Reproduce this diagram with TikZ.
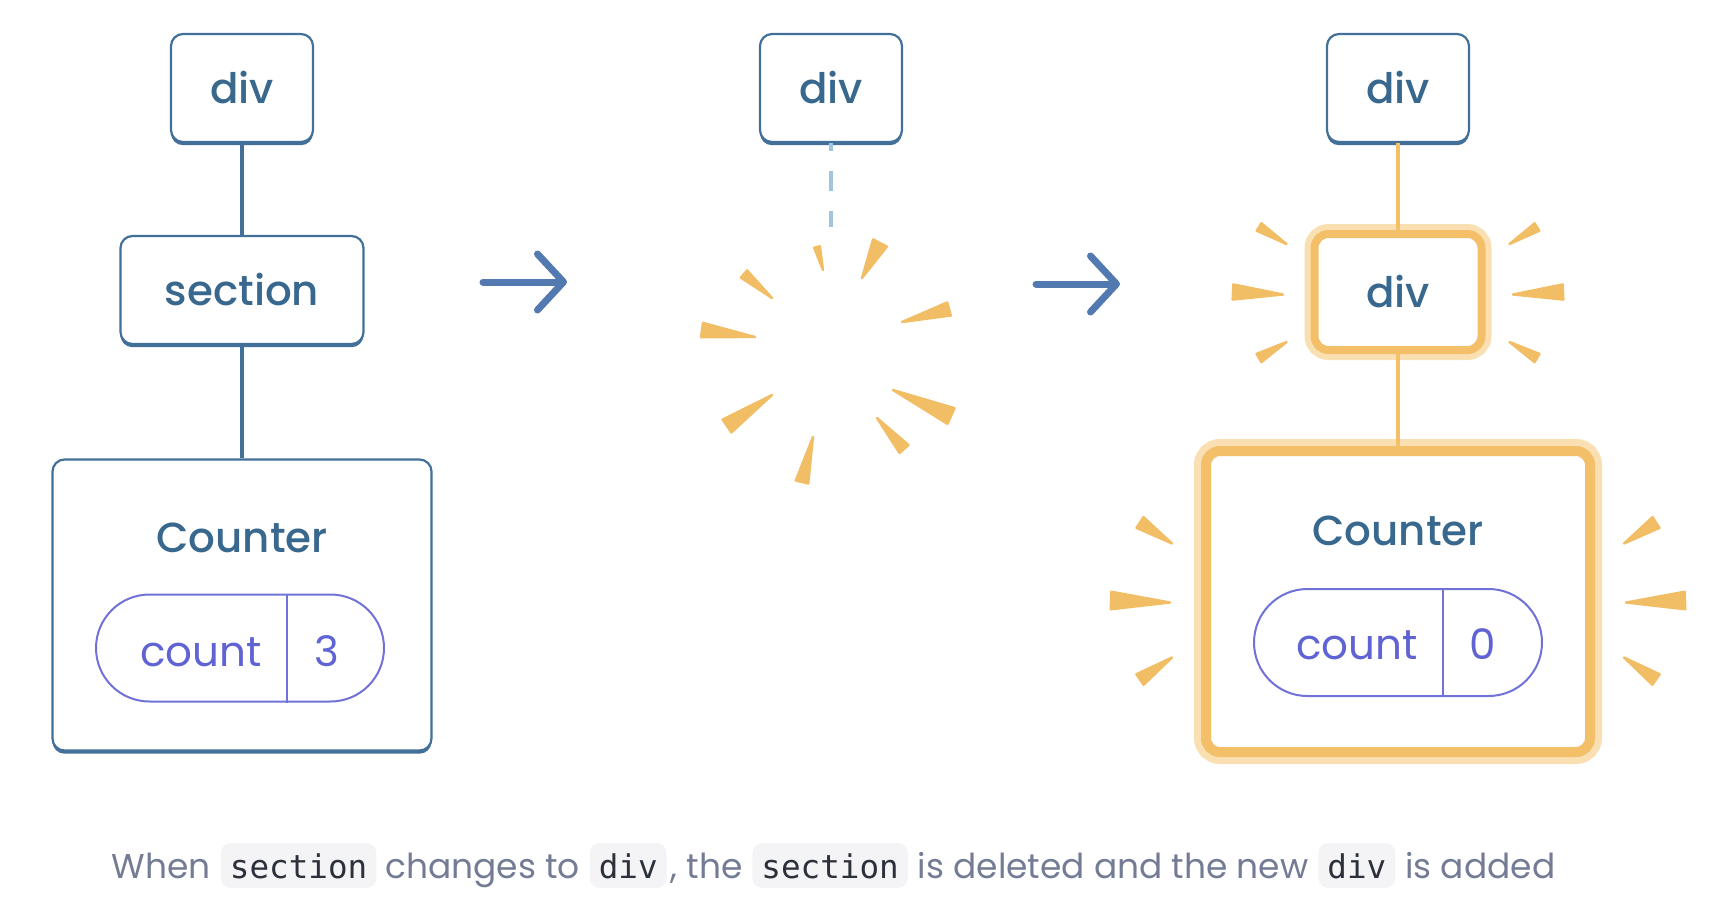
\documentclass[tikz,border=0pt]{standalone}
\usepackage{fontspec}
\setmainfont{Poppins}
\IfFontExistsTF{Poppins Medium}{\newfontfamily\labelfont{Poppins Medium}}{\newfontfamily\labelfont{Poppins}}
\newfontfamily\codefont{DejaVu Sans Mono}
\usetikzlibrary{positioning,calc,shadows,arrows.meta}

\definecolor{boxblue}{RGB}{66,112,152}
\definecolor{labelblue}{RGB}{57,104,142}
\definecolor{arrowblue}{RGB}{82,121,176}
\definecolor{dashblue}{RGB}{160,197,225}
\definecolor{pillblue}{RGB}{112,114,215}
\definecolor{pilltext}{RGB}{96,99,212}
\definecolor{hotorange}{RGB}{243,191,104}
\definecolor{glow}{RGB}{249,223,178}
\definecolor{sparkorange}{RGB}{242,190,101}
\definecolor{capgray}{RGB}{116,124,149}
\definecolor{codetext}{RGB}{44,48,58}
\definecolor{codebg}{RGB}{244,244,246}

\tikzset{
  tag/.style={draw=boxblue,line width=1.1pt,fill=white,rounded corners=6pt,
    general shadow={fill=boxblue,shadow yshift=-1.6pt},
    text=labelblue,font=\labelfont\fontsize{21}{25}\selectfont,inner sep=0pt},
  hottag/.style={draw=hotorange,line width=4pt,fill=white,rounded corners=7pt,
    preaction={draw=glow,line width=10pt},
    text=labelblue,font=\labelfont\fontsize{21}{25}\selectfont,inner sep=0pt},
  hotbox/.style={hottag,line width=5pt,preaction={draw=glow,line width=12pt}},
  title/.style={text=labelblue,font=\labelfont\fontsize{21}{25}\selectfont,inner sep=0pt},
  pill/.style={draw=pillblue,line width=1pt,rounded corners=26.75pt,
    minimum width=144pt,minimum height=53.5pt,inner sep=0pt},
  pillline/.style={draw=pillblue,line width=1pt},
  pilltxt/.style={text=pilltext,font=\fontsize{21}{25}\selectfont,inner sep=0pt},
  link/.style={draw=boxblue,line width=2pt},
  hotlink/.style={draw=hotorange,line width=2pt},
  gonelink/.style={draw=dashblue,line width=2.2pt,dash pattern=on 10pt off 10pt,dash phase=6pt},
  bigarrow/.style={draw=arrowblue,line width=3.5pt,line cap=round,
    -{Straight Barb[length=13pt,width=28pt,round]}},
  spark/.style={fill=sparkorange,draw=sparkorange,line width=1.2pt,line join=round},
  captxt/.style={text=capgray,font=\fontsize{17.2}{21}\selectfont,inner sep=0pt,outer sep=0pt},
  codebox/.style={fill=codebg,rounded corners=5pt,inner xsep=4.5pt,inner ysep=0pt,
    text height=17.5pt,text depth=5pt,outer sep=0pt,
    text=codetext,font=\codefont\fontsize{16.3}{20}\selectfont}
}

% one wedge of a burst: tip, wide end, half width in pt
\newcommand{\spark}[3]{\filldraw[spark] (#1) -- ($(#2)!#3pt!90:(#1)$) -- ($(#2)!#3pt!-90:(#1)$) -- cycle;}

\begin{document}
\begin{tikzpicture}[x=0.5pt,y=-0.5pt]
\useasboundingbox (0,0) rectangle (1710,916);
\def\colA{242}
\def\colB{831}
\def\colC{1398}

% before
\node[tag,minimum width=71pt,minimum height=54pt] (div1) at (\colA,88) {div};
\node[tag,minimum width=121.5pt,minimum height=54pt] (section1) at (\colA,290) {section};
\node[tag,minimum width=189.5pt,minimum height=145.5pt] (counter1) at (\colA,605) {};
\node[title,anchor=base] (title1) at ($(counter1.center)+(0,-53)$) {Counter};
\node[pill] (pill1) at ($(counter1.center)+(-2,43)$) {};
\draw[pillline] ($(pill1.north)+(47,0)$) -- ($(pill1.south)+(47,0)$);
\node[pilltxt,anchor=base] (key1) at ($(pill1.center)+(-39,18)$) {count};
\node[pilltxt,anchor=base] (val1) at ($(pill1.center)+(87,18)$) {3};
\draw[link] (div1) -- (section1);
\draw[link] (section1) -- (counter1);

% removed
\node[tag,minimum width=71pt,minimum height=54pt] (div2) at (\colB,88) {div};
\coordinate (fade) at (\colB,227);
\draw[gonelink] (div2) -- (fade);
\foreach \tx/\ty/\wx/\wy/\h in {823/270/817/247/1.5, 862/278/880/243/3.9, 772/298/744/274/2.4,
    902/322/949/309/3.4, 755/337/702/330/3.6, 772/395/727/426/3.9,
    813/437/802/482/3.2, 877/418/904/449/3.0, 893/390/951/416/4.3}{
  \spark{\tx,\ty}{\wx,\wy}{\h}
}

% after
\node[tag,minimum width=71pt,minimum height=54pt] (div3) at (\colC,88) {div};
\node[hottag,minimum width=83.5pt,minimum height=58pt] (newdiv) at (\colC,292) {div};
\node[hotbox,minimum width=192pt,minimum height=150.5pt] (counter3) at (\colC,601.5) {};
\node[title,anchor=base] (title3) at ($(counter3.center)+(0,-56)$) {Counter};
\node[pill] (pill3) at ($(counter3.center)+(0,41)$) {};
\draw[pillline] ($(pill3.north)+(45,0)$) -- ($(pill3.south)+(45,0)$);
\node[pilltxt,anchor=base] (key3) at ($(pill3.center)+(-41,17)$) {count};
\node[pilltxt,anchor=base] (val3) at ($(pill3.center)+(85,17)$) {0};
\draw[hotlink] (div3) -- (newdiv);
\draw[hotlink] (newdiv) -- (counter3);
\foreach \s in {-1,1}{
  \foreach \tx/\ty/\wx/\wy/\h in {111.5/-48/139/-65/2.2, 115/2.5/165/0/3.8, 111.5/50/139/66/2.4}{
    \coordinate (t) at ($(newdiv.center)+(\s*\tx,\ty)$);
    \coordinate (w) at ($(newdiv.center)+(\s*\wx,\wy)$);
    \spark{t}{w}{\h}
  }
  \foreach \tx/\ty/\wx/\wy/\h in {226/-58/258/-79/3.2, 228/1/287/-1/4.4, 226/56/258/78/3.2}{
    \coordinate (t) at ($(counter3.center)+(\s*\tx,\ty)$);
    \coordinate (w) at ($(counter3.center)+(\s*\wx,\wy)$);
    \spark{t}{w}{\h}
  }
}

% steps
\coordinate (arrA1) at (483,282);
\coordinate (arrA2) at (567,282);
\coordinate (arrB1) at (1036,284);
\coordinate (arrB2) at (1120,284);
\draw[bigarrow] (arrA1) -- (arrA2);
\draw[bigarrow] (arrB1) -- (arrB2);

% caption
\node[captxt,anchor=base west] (capA) at (112,878) {When};
\node[codebox,base right=5pt of capA] (codeA) {section};
\node[captxt,base right=4.5pt of codeA] (capB) {changes to};
\node[codebox,base right=5pt of capB] (codeB) {div};
\node[captxt,base right=2pt of codeB] (capC) {, the};
\node[codebox,base right=5pt of capC] (codeC) {section};
\node[captxt,base right=5pt of codeC] (capD) {is deleted and the new};
\node[codebox,base right=5pt of capD] (codeD) {div};
\node[captxt,base right=5pt of codeD] (capE) {is added};
\end{tikzpicture}
\end{document}
